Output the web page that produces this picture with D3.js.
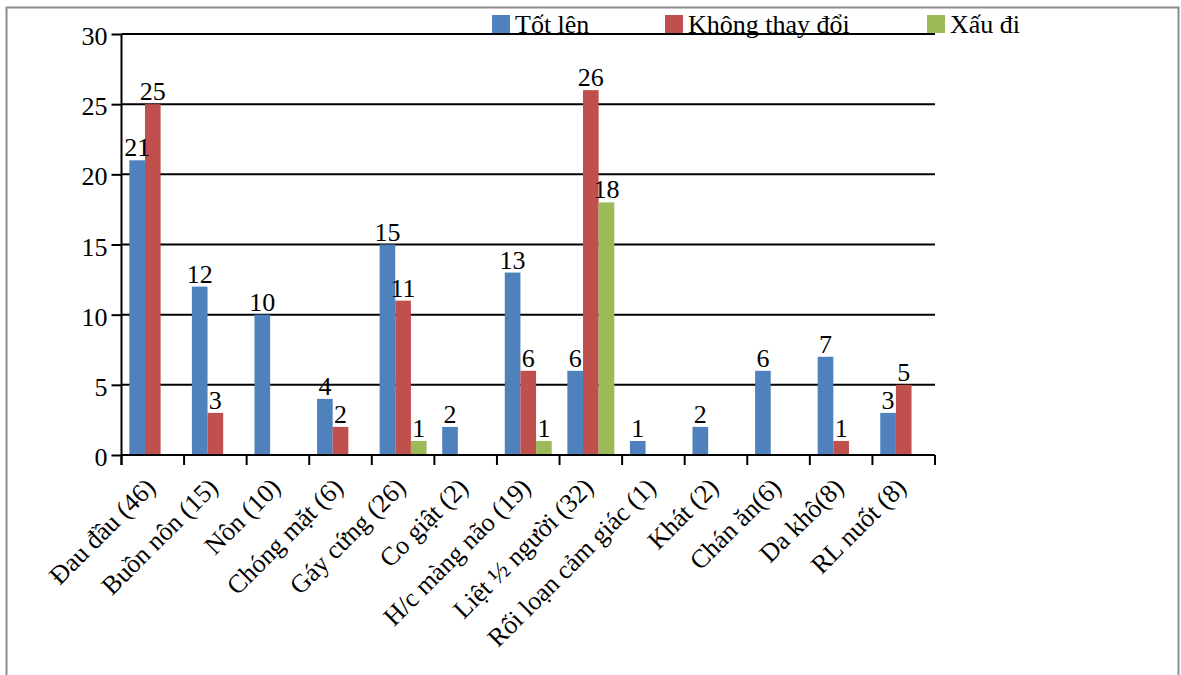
<!DOCTYPE html>
<html><head><meta charset="utf-8"><script src="https://cdn.jsdelivr.net/npm/d3@7"></script></head>
<body style="margin:0">
<script>
const categories = ["Đau đầu (46)", "Buồn nôn (15)", "Nôn (10)", "Chóng mặt (6)", "Gáy cứng (26)",
  "Co giật (2)", "H/c màng não (19)", "Liệt ½ người (32)", "Rối loạn cảm giác (1)",
  "Khát (2)", "Chán ăn(6)", "Da khô(8)", "RL nuốt (8)"];
const seriesNames = ["Tốt lên", "Không thay đổi", "Xấu đi"];
const totLen =      [21, 12, 10, 4, 15, 2, 13, 6, 1, 2, 6, 7, 3];
const khongThayDoi = [25, 3, 0, 2, 11, 0, 6, 26, 0, 0, 0, 1, 5];
const xauDi =       [0, 0, 0, 0, 1, 0, 1, 18, 0, 0, 0, 0, 0];
const yTicks = [0, 5, 10, 15, 20, 25, 30];
const colors = ["#4f81bd", "#c0504d", "#9bbb59"];

const FONT = "\"Liberation Serif\"";
const FS = 26;
const width = 1181, height = 675;
const margin = {top: 34, left: 121.5, right: 246, bottom: 220};

const svg = d3.select("body").append("svg")
  .attr("width", width).attr("height", height);

// outer frame
svg.append("rect")
  .attr("x", 6.5).attr("y", 7.5).attr("width", 1172).attr("height", 700)
  .attr("fill", "none").attr("stroke", "#8c8c8c").attr("stroke-width", 2);

const x = d3.scaleBand()
  .domain(categories)
  .range([margin.left, width - margin.right]);

const x1 = d3.scaleBand()
  .domain(seriesNames)
  .range([0, x.bandwidth()])
  .paddingOuter(0.5);

const y = d3.scaleLinear()
  .domain([0, 30])
  .range([height - margin.bottom, margin.top]);

// gridlines
svg.append("g").selectAll("line")
  .data(yTicks.slice(1))
  .join("line")
  .attr("x1", margin.left).attr("x2", width - margin.right)
  .attr("y1", d => y(d)).attr("y2", d => y(d))
  .attr("stroke", "#000").attr("stroke-width", 2);

const data = categories.map((c, i) => ({
  cat: c,
  values: [totLen[i], khongThayDoi[i], xauDi[i]]
}));

const groups = svg.append("g").selectAll("g")
  .data(data)
  .join("g")
  .attr("transform", d => `translate(${x(d.cat)},0)`);

groups.selectAll("rect")
  .data(d => d.values.map((v, j) => ({name: seriesNames[j], v, j})))
  .join("rect")
  .attr("x", d => x1(d.name))
  .attr("width", x1.bandwidth())
  .attr("y", d => d.v > 0 ? y(d.v) : y(0) - 1)
  .attr("height", d => d.v > 0 ? y(0) - y(d.v) : 1)
  .attr("fill", d => colors[d.j]);

// y axis
const yAxis = svg.append("g")
  .attr("transform", `translate(${margin.left},0)`)
  .call(d3.axisLeft(y).tickValues(yTicks).tickSize(10).tickFormat(""));
yAxis.select(".domain").attr("stroke-width", 2).attr("d", `M0,${y(30)}V${y(0) + 10}`);
yAxis.selectAll(".tick line").attr("stroke-width", 2);

// x axis line and ticks
const xAxisG = svg.append("g")
  .attr("transform", `translate(0,${y(0)})`);
xAxisG.append("line")
  .attr("x1", margin.left).attr("x2", width - margin.right)
  .attr("stroke", "#000").attr("stroke-width", 2);
const boundaries = categories.map(c => x(c)).concat([x(categories[categories.length - 1]) + x.bandwidth()]);
xAxisG.selectAll("line.tk")
  .data(boundaries)
  .join("line")
  .attr("class", "tk")
  .attr("x1", d => d).attr("x2", d => d)
  .attr("y1", 0).attr("y2", 10)
  .attr("stroke", "#000").attr("stroke-width", 2);

// texts
const legendX = [492, 665, 927];
const labels = [];
yTicks.forEach(t => labels.push({t: String(t), x: margin.left - 14, y: y(t) + 11, anchor: "end"}));
data.forEach(d => d.values.forEach((v, j) => {
  if (v > 0) labels.push({t: String(v), x: x(d.cat) + x1(seriesNames[j]) + x1.bandwidth() / 2, y: y(v) - 4, anchor: "middle"});
}));
seriesNames.forEach((s, i) => labels.push({t: s, x: legendX[i] + 23, y: 33, anchor: "start"}));

svg.selectAll("text.lbl")
  .data(labels)
  .join("text")
  .attr("class", "lbl")
  .attr("x", d => d.x).attr("y", d => d.y)
  .attr("text-anchor", d => d.anchor)
  .attr("font-size", FS)
  .style("font-family", FONT)
  .text(d => d.t);

svg.selectAll("text.cat")
  .data(categories)
  .join("text")
  .attr("class", "cat")
  .attr("text-anchor", "end")
  .attr("font-size", FS)
  .style("font-family", FONT)
  .attr("transform", d => `translate(${x(d) + x.bandwidth() / 2 + 4},${y(0) + 34}) rotate(-45)`)
  .text(d => d);

// legend swatches
svg.selectAll("rect.sw")
  .data(seriesNames)
  .join("rect")
  .attr("class", "sw")
  .attr("x", (d, i) => legendX[i]).attr("y", 15)
  .attr("width", 18).attr("height", 18)
  .attr("fill", (d, i) => colors[i]);
</script>
</body>
</html>
